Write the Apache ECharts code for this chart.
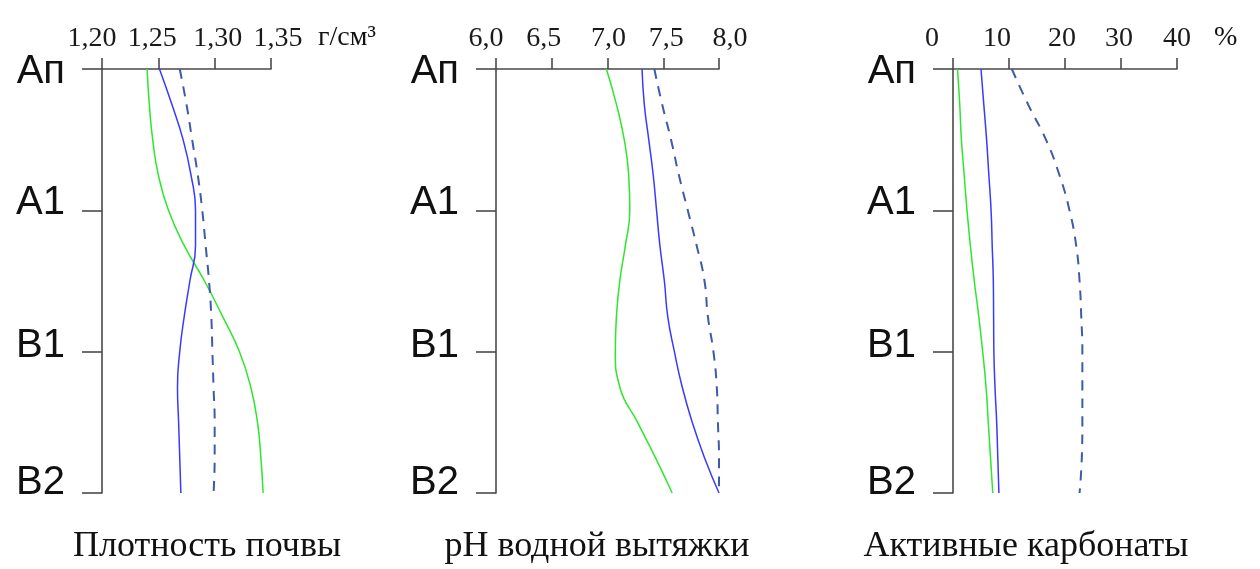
<!DOCTYPE html>
<html>
<head>
<meta charset="utf-8">
<script src="https://cdn.jsdelivr.net/npm/echarts@6/dist/echarts.min.js"></script>
<style>
html,body{margin:0;padding:0;background:#fff;}
#chart{width:1260px;height:569px;}
</style>
</head>
<body>
<div id="chart"></div>
<script>
// Depth positions (0 = Ап, 1 = А1, 2 = В1, 3 = В2)
const horizons = ['Ап', 'А1', 'В1', 'В2'];
const depths = [0, 0.25, 0.5, 0.75, 1, 1.25, 1.5, 1.75, 2, 2.25, 2.5, 2.75, 3];

// Tick labels
const densityTicks = ['1,20', '1,25', '1,30', '1,35'];
const phTicks = ['6,0', '6,5', '7,0', '7,5', '8,0'];
const carbTicks = ['0', '10', '20', '30', '40'];

// Panel 1: soil density, g/cm3
const densityGreen = [1.240, 1.242, 1.245, 1.250, 1.259, 1.273, 1.291, 1.307, 1.322, 1.332, 1.338, 1.341, 1.343];
const densityBlue = [1.251, 1.262, 1.272, 1.279, 1.283, 1.283, 1.278, 1.273, 1.269, 1.267, 1.268, 1.269, 1.270];
const densityDashed = [1.269, 1.275, 1.280, 1.285, 1.289, 1.292, 1.295, 1.297, 1.298, 1.299, 1.300, 1.300, 1.299];

// Panel 2: pH of water extract
const phGreen = [6.99, 7.08, 7.15, 7.19, 7.20, 7.16, 7.11, 7.08, 7.07, 7.11, 7.27, 7.43, 7.58];
const phBlue = [7.31, 7.33, 7.37, 7.41, 7.44, 7.47, 7.51, 7.54, 7.60, 7.67, 7.76, 7.87, 8.00];
const phDashed = [7.42, 7.49, 7.57, 7.64, 7.72, 7.80, 7.87, 7.90, 7.95, 7.98, 7.99, 8.00, 8.00];

// Panel 3: active carbonates, %
const carbGreen = [0.8, 1.2, 1.5, 2.0, 2.5, 3.1, 3.8, 4.6, 5.3, 5.9, 6.3, 6.7, 7.1];
const carbBlue = [5.0, 5.5, 6.0, 6.4, 6.8, 7.0, 7.2, 7.25, 7.3, 7.5, 7.8, 8.0, 8.2];
const carbDashed = [10.5, 13.4, 16.6, 19.0, 20.8, 22.0, 22.6, 22.9, 23.1, 23.1, 23.1, 23.0, 22.6];

const titles = ['Плотность почвы', 'pH водной вытяжки', 'Активные карбонаты'];
const units = ['г/см³', '', '%'];

const axisColor = '#4a4a4a';
const green = '#2ee62e';
const blue = '#3a3aff';
const dashBlue = '#3d5ca8';

const grids = [
  {left: 102, width: 169, top: 69, height: 424},
  {left: 496, width: 223, top: 69, height: 424},
  {left: 953, width: 224, top: 69, height: 424}
];

// horizontal nudges of tick labels (as in the source figure)
const labelShift = [
  [-10, -6, 3, 7],
  [-10, -8, 1, 3, 11],
  [-21, -12, -3, -2, 0]
];
// vertical nudges of horizon labels (as in the source figure)
const horizonShift = [3, -7, -6, -10];

const xCfg = [
  {min: 1.20, max: 1.35, interval: 0.05, ticks: densityTicks},
  {min: 6.0, max: 8.0, interval: 0.5, ticks: phTicks},
  {min: 0, max: 40, interval: 10, ticks: carbTicks}
];

const xAxes = xCfg.map((c, i) => {
  const rich = {};
  labelShift[i].forEach((dx, k) => {
    rich['t' + k] = {
      fontFamily: 'Liberation Serif', fontSize: 28, color: '#1a1a1a',
      padding: dx < 0 ? [0, -2 * dx, 0, 0] : [0, 0, 0, 2 * dx]
    };
  });
  return {
    type: 'value', gridIndex: i, position: 'top',
    min: c.min, max: c.max, interval: c.interval,
    axisLine: {show: true, lineStyle: {color: axisColor, width: 1.6}},
    axisTick: {show: true, length: 11, lineStyle: {color: axisColor, width: 1.6}},
    splitLine: {show: false},
    axisLabel: {
      formatter: v => {
        const k = Math.round((v - c.min) / c.interval);
        return '{t' + k + '|' + c.ticks[k] + '}';
      },
      margin: 16, rich: rich,
      fontFamily: 'Liberation Serif', fontSize: 28, color: '#1a1a1a'
    }
  };
});

const hRich = {};
horizonShift.forEach((dy, k) => {
  hRich['h' + k] = {
    fontFamily: 'Liberation Sans', fontSize: 40, color: '#111',
    padding: dy > 0 ? [2 * dy, 0, 0, 0] : [0, 0, -2 * dy, 0]
  };
});

const yAxes = grids.map((g, i) => ({
  type: 'value', gridIndex: i, inverse: true,
  min: 0, max: 3, interval: 1,
  axisLine: {show: true, onZero: false, lineStyle: {color: axisColor, width: 1.6}},
  axisTick: {show: true, length: 20, lineStyle: {color: axisColor, width: 1.6}},
  splitLine: {show: false},
  axisLabel: {
    formatter: v => { const k = Math.round(v); return '{h' + k + '|' + horizons[k] + '}'; },
    margin: 37, rich: hRich, color: '#111',
    fontFamily: 'Liberation Sans', fontSize: 40, verticalAlign: 'middle'
  }
}));

function mk(vals, idx, color, dashed) {
  return {
    type: 'line', xAxisIndex: idx, yAxisIndex: idx,
    data: depths.map((d, k) => [vals[k], d]),
    smooth: 0.5, showSymbol: false, clip: false, silent: true,
    lineStyle: dashed ? {color: color, width: 2, type: [10, 8]} : {color: color, width: 1.5}
  };
}

const series = [
  mk(densityGreen, 0, green), mk(densityBlue, 0, blue), mk(densityDashed, 0, dashBlue, true),
  mk(phGreen, 1, green), mk(phBlue, 1, blue), mk(phDashed, 1, dashBlue, true),
  mk(carbGreen, 2, green), mk(carbBlue, 2, blue), mk(carbDashed, 2, dashBlue, true)
];

const titleX = [207, 597, 1026];
const graphics = [];
titles.forEach((t, i) => graphics.push({
  type: 'text', x: titleX[i], y: 547, silent: true,
  style: {text: t, fill: '#111', font: '36px "Liberation Serif"', align: 'center', verticalAlign: 'middle'}
}));
graphics.push({type: 'text', silent: true, x: 318, y: 38,
  style: {text: units[0], fill: '#111', font: '28px "Liberation Serif"', verticalAlign: 'middle'}});
graphics.push({type: 'text', silent: true, x: 1214, y: 38,
  style: {text: units[2], fill: '#111', font: '28px "Liberation Serif"', verticalAlign: 'middle'}});

const chart = echarts.init(document.getElementById('chart'), null, {renderer: 'canvas'});
chart.setOption({
  animation: false,
  backgroundColor: '#ffffff',
  grid: grids,
  xAxis: xAxes,
  yAxis: yAxes,
  series: series,
  graphic: graphics
});
</script>
</body>
</html>
